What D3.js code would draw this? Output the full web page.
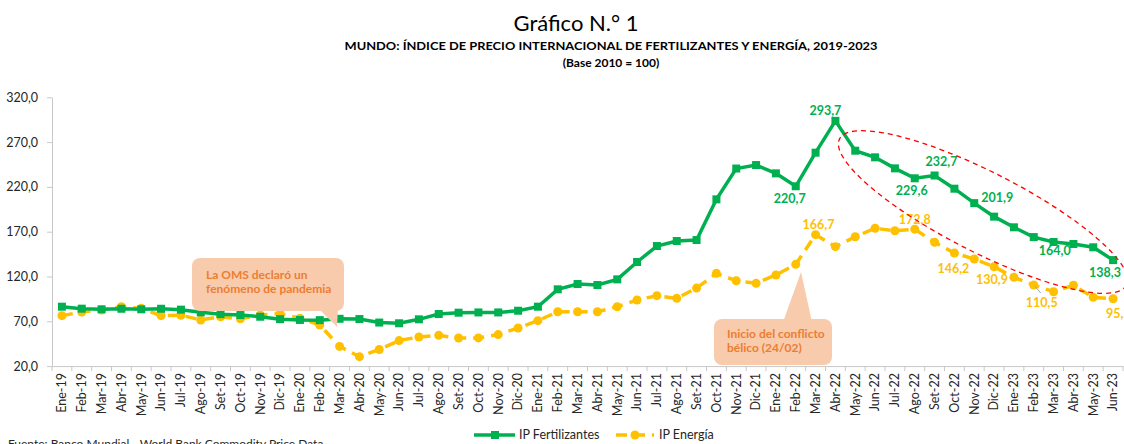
<!DOCTYPE html>
<html><head><meta charset="utf-8">
<script src="https://cdn.jsdelivr.net/npm/d3@7"></script>
<style>
body{margin:0;background:#fff;}
text{font-family:Lato,"Liberation Sans",sans-serif;}
</style>
</head><body>
<svg id="chart" width="1124" height="444"></svg>
<script>
// ---------- data ----------
const categories = [
 "Ene-19","Feb-19","Mar-19","Abr-19","May-19","Jun-19","Jul-19","Ago-19","Set-19","Oct-19","Nov-19","Dic-19",
 "Ene-20","Feb-20","Mar-20","Abr-20","May-20","Jun-20","Jul-20","Ago-20","Set-20","Oct-20","Nov-20","Dic-20",
 "Ene-21","Feb-21","Mar-21","Abr-21","May-21","Jun-21","Jul-21","Ago-21","Set-21","Oct-21","Nov-21","Dic-21",
 "Ene-22","Feb-22","Mar-22","Abr-22","May-22","Jun-22","Jul-22","Ago-22","Set-22","Oct-22","Nov-22","Dic-22",
 "Ene-23","Feb-23","Mar-23","Abr-23","May-23","Jun-23"];
const fertilizantes = [
 86.3,84.1,83.4,84.0,83.4,84.0,83.0,80.0,78.0,77.0,75.1,72.4,
 71.5,71.3,72.8,72.5,68.6,67.8,72.2,78.1,79.6,79.9,79.9,81.8,
 86.3,105.7,111.6,110.5,116.8,136.2,154.0,159.6,160.7,206.1,240.5,244.4,
 235.1,220.7,258.2,293.7,260.4,253.0,240.7,229.6,232.7,218.0,201.9,186.8,
 174.9,164.0,158.5,156.3,152.6,138.3];
const energia = [
 76.3,80.4,82.6,86.3,84.5,76.3,76.8,71.5,75.1,72.8,77.0,78.5,
 73.5,65.9,42.0,30.5,38.5,48.5,52.5,54.3,51.3,51.5,55.2,62.5,
 70.7,80.7,80.7,80.7,86.3,93.8,98.6,95.6,107.1,123.5,115.2,112.4,
 121.7,133.6,166.7,153.3,164.4,173.8,171.1,172.8,158.2,146.2,139.5,130.9,
 119.1,110.5,103.0,110.2,96.8,95.2];
const yTicks = [20,70,120,170,220,270,320];
const fertLabelIdx = [37,39,43,44,46,49,53];
const energiaLabelIdx = [38,43,45,47,49,53];
const seriesNames = ["IP Fertilizantes","IP Energía"];
const titleText = "Gráfico N.° 1";
const subtitleText = "MUNDO: ÍNDICE DE PRECIO INTERNACIONAL DE FERTILIZANTES Y ENERGÍA, 2019-2023";
const baseText = "(Base 2010 = 100)";
const sourceText = "Fuente: Banco Mundial - World Bank Commodity Price Data";
const callout1 = ["La OMS declaró un","fenómeno de pandemia"];
const callout2 = ["Inicio del conflicto","bélico (24/02)"];

// ---------- styling / layout ----------
const GREEN = "#00B050", YELLOW = "#FFC000", AXIS = "#C8C8C8", TXT = "#262626";
const CALL_FILL = "#F8CBAD", CALL_TXT = "#ED7D31";
const fertLabelPos = {37:[-6,17,"middle"],39:[-10,-6,"middle"],43:[-3,17,"middle"],44:[7,-10,"middle"],
                      46:[23,-1,"middle"],49:[21,18,"middle"],53:[-8,17,"middle"]};
const enLabelPos = {38:[3,-6,"middle"],43:[0,-5,"middle"],45:[-1,20,"middle"],47:[-2,17,"middle"],
                    49:[8,22,"middle"],53:[-7,19,"start"]};

const svg = d3.select("#chart");
const locale = d3.formatLocale({decimal:",",thousands:".",grouping:[3],currency:["",""]});
const fmt = locale.format(".1f");

const x = d3.scaleBand().domain(categories).range([52,1123]).padding(0);
const y = d3.scaleLinear().domain([20,320]).range([366.1,97.3]);
const cx = c => x(c) + x.bandwidth()/2;

// ---------- titles ----------
svg.append("text").attr("x",576).attr("y",31).attr("text-anchor","middle")
  .style("font-size","22px").style("fill","#000").text(titleText);
svg.append("text").attr("x",611).attr("y",50).attr("text-anchor","middle")
  .attr("textLength",533).attr("lengthAdjust","spacingAndGlyphs")
  .style("font-size","12px").style("font-weight","bold").style("fill","#000").text(subtitleText);
svg.append("text").attr("x",611).attr("y",67).attr("text-anchor","middle")
  .style("font-size","12px").style("font-weight","bold").style("fill","#000").text(baseText);

// ---------- axes ----------
const yAxis = svg.append("g").attr("transform","translate(52,0)")
  .call(d3.axisLeft(y).tickValues(yTicks).tickFormat(fmt).tickSize(5).tickPadding(9).tickSizeOuter(0));
yAxis.selectAll("path,line").attr("stroke",AXIS);
yAxis.selectAll("text").style("font-size","12.5px").style("fill",TXT).style("font-family","Lato,'Liberation Sans',sans-serif");

const xAxis = svg.append("g").attr("transform",`translate(0,${y(20)})`)
  .call(d3.axisBottom(x).tickSize(0).tickSizeOuter(0));
xAxis.select(".domain").attr("stroke",AXIS);
xAxis.selectAll("text")
  .attr("transform","rotate(-90)").attr("x",-7).attr("y",0).attr("dy","0.35em")
  .style("text-anchor","end").style("font-size","12.5px").style("fill",TXT)
  .style("font-family","Lato,'Liberation Sans',sans-serif");
const bounds = categories.map(c => x(c)).concat([x.range()[1]]);
svg.append("g").selectAll("line").data(bounds).join("line")
  .attr("x1",d=>d).attr("x2",d=>d).attr("y1",y(20)).attr("y2",y(20)+5)
  .attr("stroke",AXIS);

// ---------- series ----------
const line = d3.line().x((d,i)=>cx(categories[i])).y(d=>y(d));
svg.append("path").datum(energia).attr("d",line).attr("fill","none")
  .attr("stroke",YELLOW).attr("stroke-width",3.5).attr("stroke-dasharray","11,7");
svg.append("g").selectAll("circle").data(energia).join("circle")
  .attr("cx",(d,i)=>cx(categories[i])).attr("cy",d=>y(d)).attr("r",4.5).attr("fill",YELLOW);

svg.append("path").datum(fertilizantes).attr("d",line).attr("fill","none")
  .attr("stroke",GREEN).attr("stroke-width",3.5);
svg.append("g").selectAll("rect").data(fertilizantes).join("rect")
  .attr("x",(d,i)=>cx(categories[i])-4).attr("y",d=>y(d)-4).attr("width",8).attr("height",8).attr("fill",GREEN);

// ---------- data labels ----------
svg.append("g").selectAll("text").data(fertLabelIdx).join("text")
  .attr("x",i=>cx(categories[i])+fertLabelPos[i][0]).attr("y",i=>y(fertilizantes[i])+fertLabelPos[i][1])
  .attr("text-anchor",i=>fertLabelPos[i][2])
  .style("font-size","12.5px").style("font-weight","bold").style("fill",GREEN)
  .text(i=>fmt(fertilizantes[i]));
svg.append("line").attr("x1",cx(categories[49])+1).attr("y1",y(energia[49])+1)
  .attr("x2",cx(categories[49])+7).attr("y2",y(energia[49])+8).attr("stroke","#A6A6A6").attr("stroke-width",1);
svg.append("g").selectAll("text").data(energiaLabelIdx).join("text")
  .attr("x",i=>cx(categories[i])+enLabelPos[i][0]).attr("y",i=>y(energia[i])+enLabelPos[i][1])
  .attr("text-anchor",i=>enLabelPos[i][2])
  .style("font-size","12.5px").style("font-weight","bold").style("fill",YELLOW)
  .text(i=>fmt(energia[i]));

// ---------- red dashed ellipse ----------
svg.append("ellipse").attr("cx",983).attr("cy",212).attr("rx",161).attr("ry",40)
  .attr("transform","rotate(27,983,212)").attr("fill","none")
  .attr("stroke","#FF0000").attr("stroke-width",1.3).attr("stroke-dasharray","5,4");

// ---------- callouts ----------
function callout(rx, ry, rw, rh, ptr, lines, tx, ty){
  const g = svg.append("g");
  g.append("path").attr("d",`M${ptr[0]},${ptr[1]} L${ptr[2]},${ptr[3]} L${ptr[4]},${ptr[5]} Z`).attr("fill",CALL_FILL);
  g.append("rect").attr("x",rx).attr("y",ry).attr("width",rw).attr("height",rh).attr("rx",8).attr("fill",CALL_FILL);
  g.selectAll("text").data(lines).join("text").attr("x",tx).attr("y",(d,i)=>ty+i*14)
    .style("font-size","12px").style("font-weight","bold").style("fill",CALL_TXT).text(d=>d);
}
callout(192,258,152,53,[316,306, 338,306, 337,327],callout1,206,279);
callout(714,319,118,46,[783,322, 812,322, 801,272],callout2,727,338);

// ---------- legend ----------
const lg = svg.append("g");
lg.append("line").attr("x1",474).attr("x2",515).attr("y1",435).attr("y2",435).attr("stroke",GREEN).attr("stroke-width",3.5);
lg.append("rect").attr("x",491).attr("y",431).attr("width",8).attr("height",8).attr("fill",GREEN);
lg.append("text").attr("x",519).attr("y",439).style("font-size","12.5px").style("fill",TXT).text(seriesNames[0]);
lg.append("line").attr("x1",616).attr("x2",654).attr("y1",435).attr("y2",435).attr("stroke",YELLOW)
  .attr("stroke-width",3.5).attr("stroke-dasharray","11,7");
lg.append("circle").attr("cx",635).attr("cy",435).attr("r",4.5).attr("fill",YELLOW);
lg.append("text").attr("x",659).attr("y",439).style("font-size","12.5px").style("fill",TXT).text(seriesNames[1]);

// ---------- source ----------
svg.append("text").attr("x",8).attr("y",448).style("font-size","12px").style("fill",TXT).text(sourceText);
</script>
</body></html>
